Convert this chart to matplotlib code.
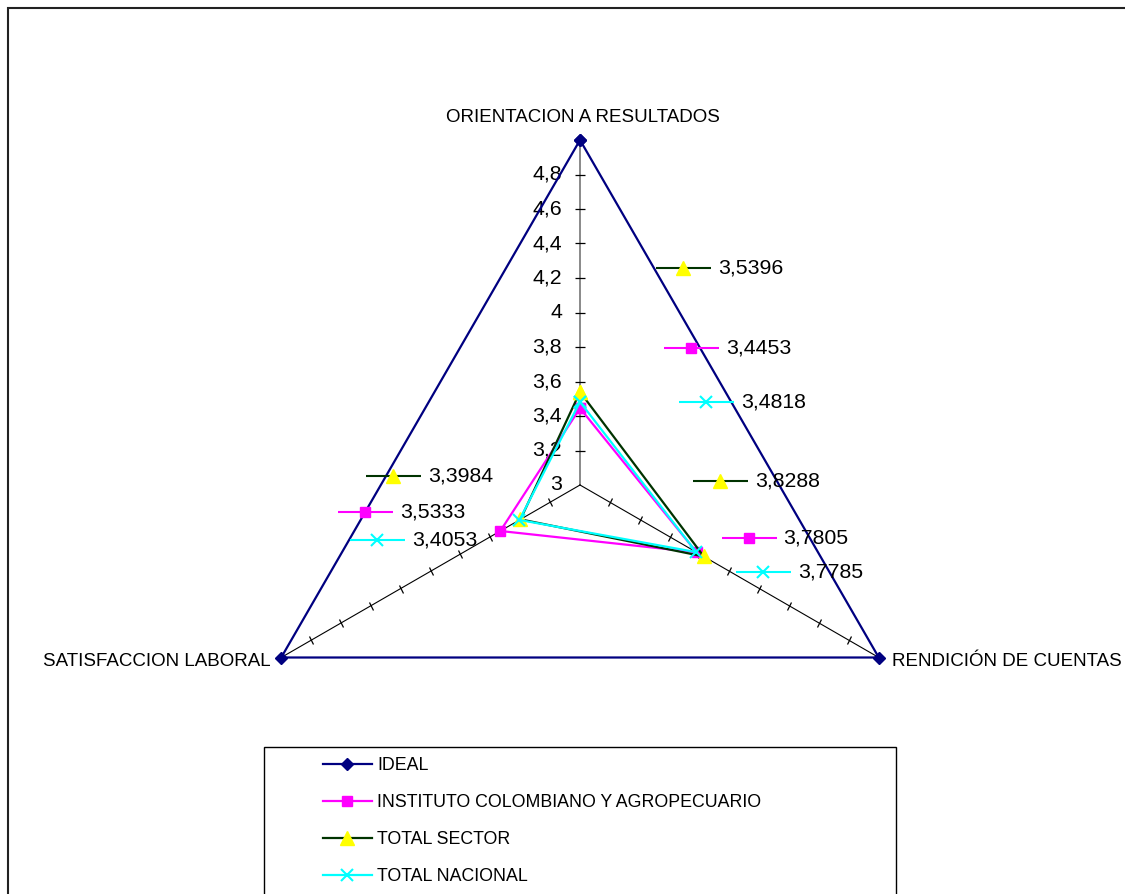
import numpy as np
import matplotlib
matplotlib.use("Agg")
import matplotlib.pyplot as plt
from matplotlib.markers import MarkerStyle
from matplotlib.transforms import Affine2D, offset_copy
from matplotlib.patches import Rectangle

plt.rcParams['font.family'] = ['Liberation Sans', 'DejaVu Sans']

# ---------------- data ----------------
categories = ["ORIENTACION A RESULTADOS", "RENDICIÓN DE CUENTAS", "SATISFACCION LABORAL"]
series_names = ["IDEAL", "INSTITUTO COLOMBIANO Y AGROPECUARIO", "TOTAL SECTOR", "TOTAL NACIONAL"]
ideal = [5.0, 5.0, 5.0]
instituto = [3.4453, 3.7805, 3.5333]
sector = [3.5396, 3.8288, 3.3984]
nacional = [3.4818, 3.7785, 3.4053]
tick_values = [3.0, 3.2, 3.4, 3.6, 3.8, 4.0, 4.2, 4.4, 4.6, 4.8]
tick_labels = ["3", "3,2", "3,4", "3,6", "3,8", "4", "4,2", "4,4", "4,6", "4,8"]
r_min, r_max = 3.0, 5.0

# ---------------- styles ----------------
styles = [
    dict(color='#000080', marker='D', ms=6.5, mfc='#000080', mec='#000080', mew=1),
    dict(color='#FF00FF', marker='s', ms=7.5, mfc='#FF00FF', mec='#FF00FF', mew=1),
    dict(color='#003300', marker='^', ms=9.5, mfc='#FFFF00', mec='#FFFF00', mew=1),
    dict(color='#00FFFF', marker='x', ms=8.5, mfc='#00FFFF', mec='#00FFFF', mew=1.5),
]
# data label key offsets (pixels, y up) for labelled series
label_offsets = {
    1: [(111, 60), (52, 14), (-135, 19)],
    2: [(103, 124), (16, 75), (-127, 43)],
    3: [(126, 0), (67, -20), (-142, -20)],
}

W, H = 1125, 894
fig = plt.figure(figsize=(W / 100, H / 100), dpi=100)
cx, cy, R = 580, 485, 345
ax = fig.add_axes([(cx - R) / W, (H - cy - R) / H, 2 * R / W, 2 * R / H], projection='polar')
ax.set_theta_offset(np.pi / 2)
ax.set_theta_direction(-1)
ax.set_autoscale_on(False)
ax.set_ylim(r_min, r_max)
ax.grid(False)
ax.set_xticks([])
ax.set_yticks([])
ax.spines['polar'].set_visible(False)
ax.patch.set_alpha(0)

n = len(categories)
theta = np.arange(n) * 2 * np.pi / n

# spokes with tick marks
for i, th in enumerate(theta):
    ax.plot([th, th], [r_min, r_max], color='#808080' if i == 0 else 'black',
            lw=1.3 if i == 0 else 0.8, clip_on=False, zorder=1)
    screen_angle = 90 - np.degrees(th)
    mk = MarkerStyle('|', transform=Affine2D().rotate_deg(screen_angle))
    ax.plot([th] * (len(tick_values) - 1), tick_values[1:], ls='none', marker=mk,
            ms=7, mew=0.9, color='black', clip_on=False, zorder=1)

# value tick labels along the first axis
for v, lab in zip(tick_values, tick_labels):
    ax.annotate(lab, xy=(theta[0], v), xytext=(-18, 0), textcoords='offset pixels',
                ha='right', va='center', fontsize=15.3, annotation_clip=False)

# series
all_series = [ideal, instituto, sector, nacional]
handles = []
th_closed = np.append(theta, theta[0])
for vals, st in zip(all_series, styles):
    v_closed = np.append(vals, vals[0])
    ln, = ax.plot(th_closed, v_closed, lw=1.6, clip_on=False, zorder=3, **st)
    handles.append(ln)

# data labels with legend keys
for si, offs in label_offsets.items():
    st = styles[si]
    for th, v, (dx, dy) in zip(theta, all_series[si], offs):
        tr = offset_copy(ax.transData, fig=fig, x=dx, y=dy, units='dots')
        ax.plot([th], [v], ls='none', marker='_', ms=39.6, mew=1.5, color=st['color'],
                transform=tr, clip_on=False, zorder=4)
        ax.plot([th], [v], ls='none', marker=st['marker'], ms=st['ms'], mfc=st['mfc'],
                mec=st['mec'], mew=st['mew'], transform=tr, clip_on=False, zorder=5)
        ax.annotate(f"{v:.4f}".replace('.', ','), xy=(th, v), xytext=(dx + 35, dy),
                    textcoords='offset pixels', ha='left', va='center', fontsize=15.3,
                    annotation_clip=False)

# category labels
cat_offsets = [((3, 18), 'center', 'baseline'), ((13, -4), 'left', 'center'),
               ((-11, -4), 'right', 'center')]
for th, cat, (off, ha, va) in zip(theta, categories, cat_offsets):
    ax.annotate(cat, xy=(th, r_max), xytext=off, textcoords='offset pixels',
                ha=ha, va=va, fontsize=13.5, annotation_clip=False)

# legend
fig.legend(handles, series_names, loc='upper left', bbox_to_anchor=(323 / W, 1 - 757 / H),
           frameon=False, borderpad=0, borderaxespad=0, handlelength=2.75,
           handletextpad=0.3, labelspacing=1.13, fontsize=12.8, numpoints=1)
fig.patches.append(Rectangle((264 / W, -0.1), (896 - 264) / W, (H - 747) / H + 0.1,
                             transform=fig.transFigure, fill=False, ec='black', lw=1))
# chart frame
fig.patches.append(Rectangle((8 / W, -0.1), 1.2, (H - 8) / H + 0.1,
                             transform=fig.transFigure, fill=False, ec='#222222', lw=1.5))

fig.savefig("out.png", dpi=100)
